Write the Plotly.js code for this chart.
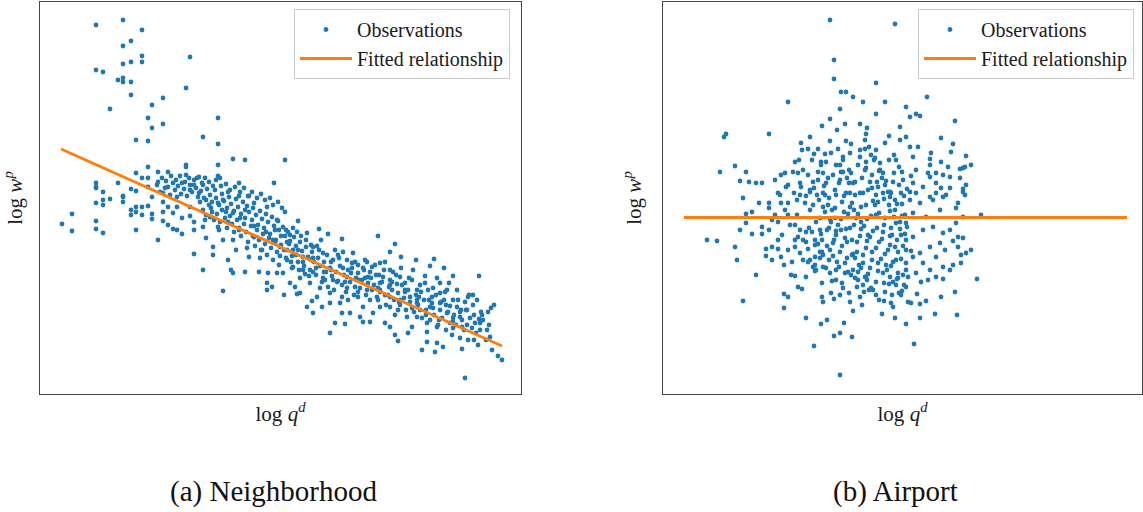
<!DOCTYPE html>
<html>
<head>
<meta charset="utf-8">
<script src="https://cdn.plot.ly/plotly-3.0.1.min.js"></script>
<style>
  html, body { margin: 0; padding: 0; background: #fff; }
  #chart { width: 1143px; height: 512px; }
</style>
</head>
<body>
<div id="chart"></div>
<script>
// Panel (a): neighborhood observations, [log q^d, log w^p]
const obsNeighborhood = [
  [0.96,-0.25],[1.23,-0.20],[1.42,-0.30],[1.23,-0.46],[1.31,-0.41],[1.42,-0.56],[1.42,-0.62],[1.23,-0.64],[1.31,-0.62],[1.90,-0.57],
  [0.96,-0.70],[1.03,-0.72],[1.18,-0.80],[1.23,-0.78],[1.23,-0.82],[1.31,-0.82],[1.31,-0.95],[1.86,-0.88],[1.63,-0.98],[1.52,-1.05],
  [1.10,-1.09],[1.48,-1.18],[1.52,-1.28],[1.63,-1.24],[2.18,-1.18],[1.36,-1.40],[1.48,-1.41],[2.03,-1.37],[2.18,-1.44],[2.33,-1.59],
  [2.45,-1.60],[1.86,-1.65],[2.18,-1.65],[1.48,-1.67],[1.86,-1.67],[2.74,-1.83],[1.68,-1.72],[1.36,-1.73],[1.42,-1.78],[1.48,-1.78],
  [2.18,-1.76],[2.20,-1.78],[2.39,-1.83],[1.18,-1.83],[0.96,-1.83],[0.96,-1.88],[1.03,-1.92],[1.31,-1.89],[1.36,-1.91],[1.23,-1.96],
  [1.10,-1.99],[2.49,-1.96],[2.39,-1.96],[2.85,-1.60],
  [0.62,-2.24],[0.72,-2.14],[0.72,-2.31],[0.96,-1.87],[0.96,-2.03],[0.96,-2.21],[0.96,-2.29],[1.03,-2.00],[1.03,-2.05],[1.03,-2.33],
  [1.23,-1.97],[1.23,-2.02],[1.31,-2.10],[1.31,-2.15],[1.36,-2.07],[1.36,-2.12],[1.36,-2.30],[1.42,-2.07],[1.42,-2.15],[1.48,-1.87],
  [1.48,-2.06],[1.52,-1.97],[1.52,-2.14],[1.52,-2.19],[1.58,-1.82],[1.58,-2.40],[1.63,-1.93],[1.63,-2.02],[1.63,-2.12],[1.63,-2.21],
  [1.68,-1.87],[1.68,-2.07],[1.68,-2.25],[1.73,-1.83],[1.73,-2.13],[1.73,-2.29],[1.77,-1.97],[1.77,-2.07],[1.77,-2.30],[1.82,-1.83],
  [1.82,-2.18],[1.82,-2.34],[1.86,-1.75],[1.90,-1.90],[1.90,-2.07],[1.90,-2.16],[1.94,-1.80],[1.94,-2.22],[1.94,-2.30],[1.94,-2.54],
  [1.99,-1.77],[1.99,-1.93],[2.03,-1.85],[2.03,-2.27],[2.03,-2.70],[2.06,-2.00],[2.06,-2.38],[2.10,-2.17],[2.13,-2.47],[2.13,-2.55],
  [2.18,-2.03],[2.18,-2.27],[2.23,-2.91],[2.23,-2.00],[2.23,-2.40],[2.28,-1.92],[2.28,-2.22],[2.28,-2.60],[2.31,-2.70],[2.33,-2.73],
  [2.33,-2.13],[2.36,-2.50],[2.39,-2.30],[2.45,-2.72],[2.45,-2.10],[2.49,-2.57],[2.54,-2.03],[2.54,-2.37],[2.59,-2.72],[2.62,-2.50],
  [2.67,-2.07],[2.67,-2.90],[2.67,-2.83],[2.68,-2.73],[2.72,-2.87],[2.75,-2.30],[2.77,-2.20],[2.77,-2.73],
  [2.85,-2.12],[2.98,-2.21],[3.19,-2.29],[3.28,-2.34],[3.42,-2.39],[3.78,-2.36],[3.95,-2.44],[3.90,-2.52],[4.01,-2.57],[4.16,-2.60],
  [4.34,-2.59],[4.30,-2.66],[4.44,-2.68],[4.53,-2.76],[4.79,-2.76],[4.73,-2.95],[4.68,-2.97],[4.94,-3.05],[4.91,-3.08],[4.88,-3.12],
  [4.79,-3.19],[4.82,-3.15],[4.75,-3.23],[4.90,-3.37],[4.98,-3.56],[5.02,-3.60],[4.65,-3.78],[4.62,-3.49],[3.30,-3.33],[3.35,-3.23],
  [3.45,-3.24],[3.13,-3.13],[3.07,-3.07],[3.63,-3.22],[3.70,-3.22],[3.90,-3.27],[3.98,-3.41],[3.95,-3.35],[4.08,-3.33],[4.22,-3.50],
  [4.27,-3.42],[4.35,-3.52],[4.37,-3.43],[4.43,-3.47],[4.12,-3.27],[4.27,-3.23],[4.50,-3.23],[4.53,-3.18],[4.60,-3.17],[2.84,-2.95],
  [2.97,-2.94],[3.12,-3.01],[3.22,-3.07],[3.42,-3.13],[3.48,-3.00],[3.63,-3.07],[3.80,-3.07],[3.85,-3.23],[3.98,-3.10],[4.17,-3.03],
  [4.32,-2.97],[4.40,-2.93],[4.47,-2.90],[4.40,-2.83],[4.25,-2.83],[4.05,-2.83],[3.90,-2.85],[3.80,-2.90],[3.67,-2.90],[3.55,-2.87],
  [3.42,-2.97],[3.30,-2.93],[3.20,-2.88],[3.10,-2.83],[3.00,-2.78],[2.90,-2.83],[2.83,-2.73],[2.80,-2.47],[2.93,-2.50],[3.03,-2.57],
  [3.13,-2.47],[3.23,-2.53],[3.33,-2.60],[3.43,-2.52],[3.53,-2.53],[3.65,-2.60],[3.68,-2.77],[3.58,-2.73],[3.47,-2.77],[3.33,-2.80],
  [3.23,-2.78],[3.13,-2.72],[3.03,-2.70],[2.93,-2.67],[2.87,-2.60],[2.97,-2.32],[3.07,-2.33],[2.90,-2.35],[2.87,-2.42],[3.80,-2.63],
  [3.90,-2.70],[4.00,-2.77],[3.83,-2.77],[3.80,-2.83],[4.17,-2.90],[4.10,-2.97],[4.00,-3.00],[3.90,-3.07],[4.20,-3.10],[4.30,-3.07],
  [4.40,-3.03],[4.47,-3.13],[4.57,-3.07],[4.67,-3.10],[4.53,-3.28],[4.62,-3.27],[4.80,-3.23],[4.87,-3.30],[4.27,-3.32],[4.37,-3.27],
  [4.17,-3.17],[4.07,-3.17],[3.95,-3.15],[3.73,-3.13],[3.60,-3.17],[3.50,-3.13],[3.40,-3.03],[3.30,-3.03],[3.17,-2.97],[3.00,-2.93],
  [2.95,-2.87],[3.70,-3.00],[3.58,-2.97],[3.47,-2.88],[3.77,-2.97],[3.90,-2.97],
  [1.57,-1.85],[1.60,-1.92],[1.65,-1.88],[1.70,-1.95],[1.75,-1.90],[1.78,-1.86],[1.81,-1.94],[1.84,-1.89],[1.87,-1.96],[1.90,-1.85],
  [1.92,-1.92],[1.96,-1.88],[1.98,-1.97],[2.01,-1.91],[2.04,-1.98],[2.07,-1.89],[2.10,-1.95],[2.12,-2.02],[2.15,-1.90],[2.16,-1.98],
  [2.19,-2.05],[2.22,-1.94],[2.24,-2.01],[2.27,-2.08],[2.29,-1.97],[2.31,-2.04],[2.34,-2.11],[2.36,-1.99],[2.38,-2.07],[2.41,-2.14],
  [2.43,-2.02],[2.45,-2.18],[2.47,-2.06],[2.49,-2.12],[2.52,-2.20],[2.53,-2.08],[2.56,-2.15],[2.58,-2.25],[2.60,-2.11],[2.62,-2.19],
  [2.64,-2.28],[2.66,-2.14],[2.68,-2.22],[2.70,-2.34],[2.72,-2.17],[2.74,-2.26],[2.76,-2.40],[2.78,-2.21],[2.79,-2.30],[2.81,-2.45],
  [2.83,-2.27],[2.85,-2.36],[2.87,-2.50],[2.88,-2.32],[2.90,-2.41],[2.92,-2.56],[2.94,-2.37],[2.96,-2.46],[2.98,-2.62],[3.00,-2.42],
  [3.02,-2.51],[3.04,-2.66],[3.06,-2.47],[3.08,-2.57],[3.10,-2.70],[3.12,-2.52],[3.14,-2.62],[3.16,-2.75],[3.18,-2.58],[3.20,-2.66],
  [3.22,-2.82],[3.24,-2.62],[3.26,-2.72],[3.28,-2.87],[3.30,-2.68],[3.32,-2.76],[3.34,-2.90],[3.36,-2.72],[3.38,-2.81],[3.40,-2.66],
  [3.42,-2.85],[3.44,-2.75],[3.46,-2.92],[3.48,-2.70],[3.50,-2.82],[3.52,-2.63],[3.54,-2.95],[3.56,-2.78],[3.58,-2.65],[3.60,-2.88],
  [3.62,-2.80],[3.64,-2.70],[3.66,-2.95],[3.68,-2.83],[3.70,-2.72],[3.72,-2.90],[3.74,-2.85],[3.76,-2.75],[3.78,-3.00],[3.80,-2.92],
  [3.82,-2.82],[3.84,-2.70],[3.86,-3.05],[3.88,-2.95],[3.90,-2.80],[3.92,-2.90],[3.94,-3.00],[3.96,-2.75],[3.98,-2.93],[4.00,-3.05],
  [4.02,-2.85],[4.04,-2.98],[4.06,-3.10],[4.08,-2.90],[4.10,-3.02],[4.12,-2.80],[4.14,-3.12],[4.16,-2.95],[4.18,-3.05],[4.20,-2.85],
  [4.22,-3.18],[4.24,-3.00],[4.26,-3.10],[4.28,-2.90],[4.30,-3.20],[4.32,-3.03],[4.34,-3.15],[4.36,-2.95],[4.38,-3.25],[4.40,-3.10],
  [4.42,-3.18],[4.44,-3.00],[4.46,-3.30],[4.48,-3.12],[4.50,-3.06],[4.52,-3.35],[4.54,-3.15],[4.56,-3.25],[4.58,-3.00],[4.60,-3.38],
  [4.62,-3.20],[4.64,-3.30],[4.66,-3.10],[4.68,-3.40],[4.70,-3.18],[4.72,-3.28],[4.74,-3.15],[4.76,-3.33],[4.78,-3.45],[4.80,-3.30],
  [4.83,-3.20],[4.86,-3.40],[4.89,-3.25],[4.92,-3.50],
  [2.00,-2.02],[2.03,-2.10],[2.06,-2.15],[2.09,-2.05],[2.12,-2.12],[2.14,-2.20],[2.17,-2.14],[2.20,-2.22],[2.22,-2.10],[2.25,-2.18],
  [2.27,-2.28],[2.30,-2.16],[2.32,-2.24],[2.34,-2.32],[2.37,-2.20],[2.39,-2.28],[2.41,-2.36],[2.44,-2.24],[2.46,-2.32],[2.48,-2.42],
  [2.51,-2.26],[2.53,-2.36],[2.55,-2.46],[2.57,-2.30],[2.59,-2.40],[2.61,-2.50],[2.63,-2.34],[2.65,-2.44],[2.67,-2.55],[2.69,-2.38],
  [2.71,-2.48],[2.73,-2.60],[2.75,-2.43],[2.77,-2.52],[2.79,-2.65],[2.81,-2.36],[2.84,-2.50],[2.86,-2.58],[2.89,-2.44],[2.91,-2.62],
  [2.93,-2.28],[2.96,-2.55],[2.99,-2.70],[3.01,-2.36],[3.03,-2.62],[3.06,-2.40],[3.09,-2.76],[3.11,-2.45],[3.13,-2.58],[3.16,-2.68],
  [3.19,-2.50],[3.21,-2.40],[3.24,-2.72],[3.27,-2.55],[3.31,-2.62],[3.35,-2.50],[3.37,-2.82],[3.39,-2.58],[3.43,-2.68],[3.47,-2.60],
  [3.51,-2.73],[3.55,-2.62],[3.59,-2.80],[3.63,-2.68],[3.67,-2.62],[3.71,-2.78],[3.75,-2.65],[3.79,-2.75],[3.85,-2.62],[3.89,-2.87],
  [3.93,-2.72],[3.97,-2.84],[4.01,-2.68],[4.05,-2.92],[4.09,-2.78],[4.13,-2.70],[4.17,-3.00],[4.21,-2.92],[4.25,-2.76],[4.29,-3.00],
  [4.33,-2.88],[4.37,-2.78],[4.41,-3.02],[4.45,-2.92],[4.49,-2.83],[4.53,-3.00],[4.57,-2.90],[4.61,-3.10],[4.65,-3.02],[4.69,-2.95],
  [4.73,-3.05],[4.77,-3.00],
  [1.58,-1.72],[1.62,-1.78],[1.66,-1.81],[1.71,-1.76],[1.76,-1.80],[1.80,-1.76],[1.85,-1.82],[1.89,-1.78],[1.94,-1.85],[1.97,-1.78],
  [2.02,-1.83],[2.05,-1.78],[2.09,-1.82],[2.13,-1.86],[2.16,-1.80],[2.21,-1.86],[2.26,-1.84],[2.30,-1.90],[2.35,-1.87],[2.40,-1.92],
  [2.44,-1.88],[2.48,-1.96],[2.52,-1.92],[2.57,-1.98],[2.61,-1.94],[2.65,-2.00],[2.70,-1.98],[2.73,-2.05],[2.78,-2.02],[2.82,-2.08],
  [2.05,-2.20],[2.11,-2.08],[2.19,-2.30],[2.26,-2.12],[2.33,-2.40],[2.40,-2.18],[2.47,-2.48],[2.54,-2.26],[2.60,-2.58],[2.66,-2.32],
  [2.73,-2.40],[2.80,-2.56],[2.86,-2.30],[2.92,-2.68],[2.98,-2.50],[3.05,-2.74],[3.11,-2.60],[3.17,-2.46],[3.25,-2.80],[3.31,-2.70],
  [3.38,-2.55],[3.45,-2.82],[3.52,-2.68],[3.58,-2.92],[3.65,-2.78],[3.72,-2.67],[3.78,-2.88],[3.85,-2.95],[3.92,-2.82],[3.99,-3.02],
  [4.05,-2.90],[4.12,-3.08],[4.19,-2.97],[4.26,-3.15],[4.33,-3.08],[4.39,-3.20],[4.46,-3.05],[4.53,-3.22],[4.60,-3.12],[4.67,-3.25],
  [4.74,-3.40],[4.81,-3.12]
];

// Panel (b): airport observations, [log q^d, log w^p]
const obsAirport = [
  [8.30,-0.20],[8.95,-0.24],[8.34,-0.60],[8.34,-0.79],[8.76,-0.83],[8.41,-0.92],[8.46,-0.92],[8.53,-0.97],[8.63,-1.02],[8.85,-1.02],
  [7.88,-1.02],[8.40,-1.09],[8.76,-1.14],[8.30,-1.19],[8.45,-1.24],[8.60,-1.24],[8.22,-1.26],[8.37,-1.30],[8.67,-1.28],[7.26,-1.34],
  [7.24,-1.37],[7.69,-1.34],[8.10,-1.37],[9.00,-1.27],[8.89,-1.36],[8.66,-1.34],[8.01,-1.43],[8.30,-1.41],[8.46,-1.41],[8.51,-1.44],
  [8.02,-1.50],[8.08,-1.49],[8.18,-1.49],[8.65,-1.40],[8.65,-1.49],[8.85,-1.43],[9.00,-1.40],[8.25,-1.54],[8.31,-1.53],[8.50,-1.53],
  [8.76,-1.50],[7.95,-1.62],[8.21,-1.62],[8.36,-1.65],[8.43,-1.57],[8.60,-1.57],[8.80,-1.63],[8.96,-1.60],[7.35,-1.66],[7.20,-1.72],
  [7.46,-1.72],[7.81,-1.75],[7.85,-1.73],[7.98,-1.73],[8.23,-1.73],[8.41,-1.72],[8.51,-1.73],[8.66,-1.68],[8.83,-1.73],[7.40,-1.81],
  [7.49,-1.82],[7.56,-1.83],[7.62,-1.83],[7.88,-1.85],[8.00,-1.83],[8.13,-1.82],[8.26,-1.83],[8.40,-1.80],[8.53,-1.83],[8.70,-1.82],
  [8.93,-1.82],[7.78,-1.93],[7.94,-1.93],[7.43,-1.98],[8.10,-1.92],[8.23,-1.93],[8.36,-1.95],[8.50,-1.93],[8.63,-1.93],[8.76,-1.95],
  [8.90,-1.92],[9.01,-1.93],
  [9.27,-0.97],[9.06,-1.07],[9.10,-1.17],[9.16,-1.14],[9.20,-1.16],[9.55,-1.21],[9.06,-1.37],[9.41,-1.38],[9.10,-1.47],[9.18,-1.47],
  [9.53,-1.44],[9.51,-1.52],[9.31,-1.53],[9.66,-1.56],[9.13,-1.57],[9.30,-1.59],[9.41,-1.62],[9.71,-1.65],[9.63,-1.68],[9.48,-1.67],
  [9.16,-1.70],[9.30,-1.65],[9.36,-1.73],[9.28,-1.73],[9.43,-1.75],[9.60,-1.78],[9.66,-1.85],[9.50,-1.88],[9.41,-1.88],[9.23,-1.87],
  [9.13,-1.83],[9.10,-1.92],[9.16,-1.93],[9.36,-1.93],[9.63,-1.92],[9.46,-1.95],[9.30,-1.97],
  [7.46,-2.14],[7.52,-2.12],[7.46,-2.23],[7.40,-2.30],[7.52,-2.34],[7.07,-2.40],[7.17,-2.41],[7.35,-2.47],[7.37,-2.60],[7.56,-2.75],
  [7.43,-3.01],[7.59,-2.03],[7.62,-2.27],[7.62,-2.34],[7.66,-2.49],[7.66,-2.56],[7.69,-2.03],[7.69,-2.08],[7.69,-2.30],[7.72,-2.47],
  [7.72,-2.60],[7.75,-2.15],[7.78,-2.22],[7.78,-2.49],[7.81,-2.03],[7.81,-2.57],[7.84,-2.65],[7.84,-2.94],[7.84,-3.08],[7.88,-2.97],
  [7.88,-2.03],[7.88,-2.15],[7.91,-2.75],[7.95,-2.76],[7.95,-2.47],[7.98,-2.87],[8.02,-2.89],[8.06,-3.18],[8.06,-2.77],[8.01,-1.87],
  [8.10,-1.90],[8.00,-1.95],[8.05,-2.03],[7.95,-2.25],[8.00,-2.30],[8.06,-2.32],[7.98,-2.37],[8.03,-2.40],[8.08,-2.49],[8.00,-2.53],
  [8.10,-2.60],[8.15,-2.57],[8.13,-2.67],[8.16,-2.70],[8.20,-2.52],[8.14,-3.46],[8.21,-3.24],[8.27,-3.20],[8.22,-2.97],[8.23,-3.02],
  [8.31,-2.93],[8.34,-2.99],[8.34,-3.36],[8.40,-3.33],[8.40,-3.75],[8.44,-3.23],[8.52,-3.37],[8.53,-3.11],[8.50,-3.02],[8.60,-2.97],
  [8.63,-2.85],[8.69,-2.90],[8.76,-2.95],[8.82,-3.14],[8.84,-3.01],[8.91,-3.03],[8.95,-3.18],[8.93,-3.07],[8.96,-2.85],[9.01,-2.95],
  [8.43,-2.88],[8.36,-2.80],[8.30,-2.73],[8.23,-2.67],[8.45,-2.73],[8.55,-2.78],[8.66,-2.77],[8.76,-2.82],[8.90,-2.77],[8.98,-2.78],
  [9.65,-1.67],[9.60,-1.69],[9.63,-1.89],[9.65,-1.95],[9.58,-2.03],[9.56,-2.08],[9.81,-2.15],[9.63,-2.17],[9.56,-2.23],[9.50,-2.30],
  [9.58,-2.37],[9.63,-2.38],[9.53,-2.41],[9.58,-2.47],[9.45,-2.50],[9.71,-2.50],[9.66,-2.53],[9.61,-2.55],[9.61,-2.63],[9.53,-2.65],
  [9.43,-2.67],[9.50,-2.70],[9.77,-2.79],[9.43,-2.79],[9.28,-2.80],[9.21,-2.82],[9.06,-2.87],[9.55,-2.92],[9.41,-2.97],[9.17,-2.94],
  [9.26,-3.01],[9.20,-3.04],[9.11,-3.03],[9.35,-3.14],[9.57,-3.15],[9.20,-3.18],[9.06,-3.24],[9.14,-3.44],[9.36,-2.77],[9.30,-2.70],
  [9.23,-2.63],[9.36,-2.57],[9.20,-2.53],[9.30,-2.47],[9.40,-2.43],[9.43,-2.33],[9.33,-2.27],[9.23,-2.30],[9.13,-2.37],[9.06,-2.50],
  [9.13,-2.57],[9.06,-2.63],[9.16,-2.73],[9.08,-2.77],[9.30,-1.77],[9.50,-1.77],[9.36,-1.83],[9.43,-1.97],[9.33,-2.00],[9.20,-2.03],
  [9.40,-2.10],[9.26,-2.17],[9.13,-2.13],[9.06,-2.23],
  [8.12,-1.60],[8.18,-1.72],[8.24,-1.86],[8.29,-1.98],[8.35,-2.08],[8.41,-2.19],[8.46,-2.29],[8.52,-2.40],[8.57,-2.52],[8.63,-2.63],
  [8.68,-2.74],[8.74,-1.60],[8.79,-1.71],[8.85,-1.85],[8.90,-1.97],[8.95,-2.10],[9.00,-2.22],[9.05,-2.34],[8.15,-2.45],[8.20,-2.58],
  [8.26,-2.68],[8.32,-2.81],[8.38,-1.49],[8.43,-1.60],[8.49,-1.70],[8.55,-1.82],[8.60,-1.93],[8.66,-2.05],[8.71,-2.16],[8.77,-2.28],
  [8.82,-2.39],[8.88,-2.50],[8.93,-2.62],[8.98,-2.73],[9.04,-2.85],[8.10,-2.10],[8.16,-2.22],[8.21,-2.34],[8.27,-2.46],[8.33,-2.56],
  [8.39,-2.67],[8.44,-1.96],[8.50,-2.07],[8.56,-2.18],[8.61,-2.29],[8.67,-2.41],[8.72,-2.52],[8.78,-2.63],[8.83,-2.73],[8.89,-2.84],
  [8.94,-1.55],[8.99,-1.67],[9.03,-1.80],[8.08,-1.75],[8.14,-1.88],[8.19,-2.00],[8.25,-2.12],[8.31,-2.22],[8.36,-2.35],[8.42,-2.46],
  [8.47,-2.58],[8.53,-2.70],[8.58,-2.80],[8.64,-2.92],[8.69,-1.47],[8.75,-1.58],[8.80,-1.70],[8.86,-1.81],[8.91,-1.93],[8.97,-2.04],
  [9.02,-2.16],[9.07,-2.27],[8.12,-2.32],[8.18,-2.44],[8.23,-2.55],[8.29,-2.28],[8.34,-2.40],[8.40,-2.52],[8.45,-2.63],[8.51,-2.75],
  [8.57,-2.87],[8.62,-1.78],[8.68,-1.90],[8.73,-2.01],[8.79,-2.13],[8.84,-2.25],[8.90,-2.36],[8.95,-2.47],[9.01,-2.59],[9.06,-2.70],
  [9.10,-2.00],[8.06,-1.96],[8.13,-2.05],[8.20,-2.18],[8.27,-2.30],[8.33,-2.43],[8.39,-1.83],[8.46,-1.93],[8.52,-2.03],[8.58,-2.14],
  [8.64,-2.26],[8.70,-2.37],[8.76,-2.48],[8.81,-2.59],[8.87,-2.70],[8.93,-2.82],[8.99,-2.93],[9.03,-2.46],[8.08,-2.62],[8.15,-2.71],
  [8.22,-2.83],[8.29,-2.60],[8.36,-2.70],[8.42,-2.83],[8.49,-2.93],[8.55,-2.58],[8.61,-2.68],[8.67,-2.80],[8.73,-2.90],[8.79,-3.00],
  [8.85,-2.92],[8.91,-2.28],[8.97,-2.40],[9.02,-2.04],[9.07,-1.89],[9.11,-1.76],[8.14,-1.54],[8.21,-1.65],[8.28,-1.78],[8.35,-1.90],
  [8.42,-2.02],[8.48,-2.14],[8.54,-2.25],[8.60,-2.36],[8.66,-2.48],[8.72,-2.60],[8.78,-2.71],[8.84,-2.83],[8.89,-1.60],[8.94,-1.73],
  [8.99,-1.85],[9.04,-1.96],[8.09,-2.28],[8.15,-2.40],[8.22,-2.52],[8.28,-2.05],[8.35,-2.18],[8.41,-2.30],[8.47,-2.42],[8.53,-2.54],
  [8.59,-2.65],[8.65,-2.77],[8.71,-2.88],[8.77,-1.82],[8.83,-1.93],[8.89,-2.05],[8.94,-2.17],[9.00,-2.29],[9.06,-2.40],[9.11,-2.51],
  [8.17,-1.95],[8.23,-2.07],[8.30,-2.19],[8.36,-2.31],[8.43,-1.72],[8.49,-1.83],[8.55,-1.95],[8.61,-2.07],[8.67,-2.19],[8.73,-2.31],
  [8.79,-2.42],[8.85,-2.54],[8.91,-2.66],[8.97,-2.79],[9.02,-2.91],[9.08,-3.02],[8.60,-1.50],[8.66,-1.62],[8.72,-1.75],[8.78,-1.87],
  [8.84,-1.99],[8.90,-2.11],[8.96,-2.23],[9.01,-2.35],
  [7.75,-1.80],[7.80,-1.95],[7.85,-2.10],[7.90,-2.25],[7.95,-2.40],[7.82,-2.35],[7.88,-2.50],[7.92,-2.62],[7.97,-2.00],[7.72,-2.20],
  [7.78,-2.40],[7.86,-1.87],[7.93,-1.72],[7.99,-1.60],[8.03,-1.70],[7.97,-2.15],[8.03,-2.60],[8.06,-2.42],
  [8.18,-1.80],[8.25,-1.95],[8.32,-2.10],[8.38,-2.25],[8.45,-2.38],[8.52,-2.55],[8.58,-2.72],[8.65,-1.70],[8.72,-1.88],[8.78,-2.02],
  [8.85,-2.18],[8.92,-2.35],[8.98,-2.52],[9.05,-2.15],[8.15,-2.65],[8.22,-2.40],[8.30,-2.50],[8.37,-2.62],[8.44,-2.12],[8.50,-2.28],
  [8.57,-2.42],[8.63,-2.55],[8.70,-2.68],[8.76,-2.15],[8.83,-2.32],[8.90,-2.45],[8.96,-2.60],[9.03,-2.75],[8.40,-1.65],[8.47,-1.78],
  [8.54,-2.10],[8.61,-2.22],[8.68,-2.35],[8.75,-2.05],[8.82,-1.78],[8.88,-1.92],[8.95,-2.00],[9.02,-1.72],[8.26,-1.62],[8.33,-1.75],
  [8.58,-1.65],[8.71,-1.55],[8.86,-2.65],[8.40,-2.95],[8.62,-3.05],[8.20,-2.30],[8.48,-2.72],[8.92,-2.95]
];

// Fitted lines: end points of each estimated relationship
const fitNeighborhoodX = [0.61, 5.02];
const fitNeighborhoodY = [-1.49, -3.46];
const fitAirportX = [6.84, 11.27];
const fitAirportY = [-2.175, -2.175];

const legendNames = ['Observations', 'Fitted relationship'];
const captions = ['(a) Neighborhood', '(b) Airport'];
const xTitle = 'log <i>q</i><sup><i>d</i></sup>';
const yTitle = 'log <i>w</i><sup><i>p</i></sup>';

const BLUE = '#1f77b4';
const ORANGE = '#ff7f0e';
const SERIF = 'Liberation Serif';

const col = (arr, i) => arr.map(p => p[i]);

const traces = [
  {
    type: 'scatter', mode: 'markers', name: legendNames[0],
    x: col(obsNeighborhood, 0), y: col(obsNeighborhood, 1),
    xaxis: 'x', yaxis: 'y', legend: 'legend',
    marker: { color: BLUE, size: 4.8, line: { width: 0 } }
  },
  {
    type: 'scatter', mode: 'lines', name: legendNames[1],
    x: fitNeighborhoodX, y: fitNeighborhoodY,
    xaxis: 'x', yaxis: 'y', legend: 'legend',
    line: { color: ORANGE, width: 3 }
  },
  {
    type: 'scatter', mode: 'markers', name: legendNames[0],
    x: col(obsAirport, 0), y: col(obsAirport, 1),
    xaxis: 'x2', yaxis: 'y2', legend: 'legend2',
    marker: { color: BLUE, size: 4.8, line: { width: 0 } }
  },
  {
    type: 'scatter', mode: 'lines', name: legendNames[1],
    x: fitAirportX, y: fitAirportY,
    xaxis: 'x2', yaxis: 'y2', legend: 'legend2',
    line: { color: ORANGE, width: 3 }
  }
];

const W = 1143, H = 512;
const axisCommon = {
  showline: true, mirror: true, linecolor: '#444', linewidth: 1,
  showgrid: false, zeroline: false, ticks: '', showticklabels: false,
  fixedrange: true
};
const titleFont = { family: SERIF, size: 21, color: '#1a1a1a' };
const legendCommon = {
  xanchor: 'left', yanchor: 'top',
  bgcolor: 'rgba(255,255,255,0.85)', bordercolor: '#cccccc', borderwidth: 1,
  font: { family: SERIF, size: 20, color: '#1a1a1a' },
  itemwidth: 52, tracegroupgap: 0, traceorder: 'normal'
};

const layout = {
  width: W, height: H,
  margin: { l: 0, r: 0, t: 0, b: 0 },
  paper_bgcolor: '#ffffff', plot_bgcolor: '#ffffff',
  font: { family: SERIF, color: '#1a1a1a' },
  showlegend: true,
  xaxis: Object.assign({}, axisCommon, {
    domain: [40 / W, 521 / W], range: [0.40, 5.21], anchor: 'y',
    title: { text: xTitle, font: titleFont, standoff: 12 }
  }),
  yaxis: Object.assign({}, axisCommon, {
    domain: [1 - 394 / H, 1 - 2 / H], range: [-3.94, -0.02], anchor: 'x',
    title: { text: yTitle, font: titleFont, standoff: 14 }
  }),
  xaxis2: Object.assign({}, axisCommon, {
    domain: [663 / W, 1142 / W], range: [6.63, 11.42], anchor: 'y2',
    title: { text: xTitle, font: titleFont, standoff: 12 }
  }),
  yaxis2: Object.assign({}, axisCommon, {
    domain: [1 - 394 / H, 1 - 2 / H], range: [-3.94, -0.02], anchor: 'x2',
    title: { text: yTitle, font: titleFont, standoff: 14 }
  }),
  legend: Object.assign({}, legendCommon, { x: 294 / W, y: 1 - 9 / H }),
  legend2: Object.assign({}, legendCommon, { x: 918 / W, y: 1 - 9 / H }),
  annotations: [
    { text: captions[0], xref: 'paper', yref: 'paper', x: 273 / W, y: 1 - 491 / H,
      xanchor: 'center', yanchor: 'middle', showarrow: false,
      font: { family: SERIF, size: 29, color: '#111' } },
    { text: captions[1], xref: 'paper', yref: 'paper', x: 895 / W, y: 1 - 491 / H,
      xanchor: 'center', yanchor: 'middle', showarrow: false,
      font: { family: SERIF, size: 29, color: '#111' } }
  ]
};

Plotly.newPlot('chart', traces, layout, { displayModeBar: false, staticPlot: true });
</script>
</body>
</html>
